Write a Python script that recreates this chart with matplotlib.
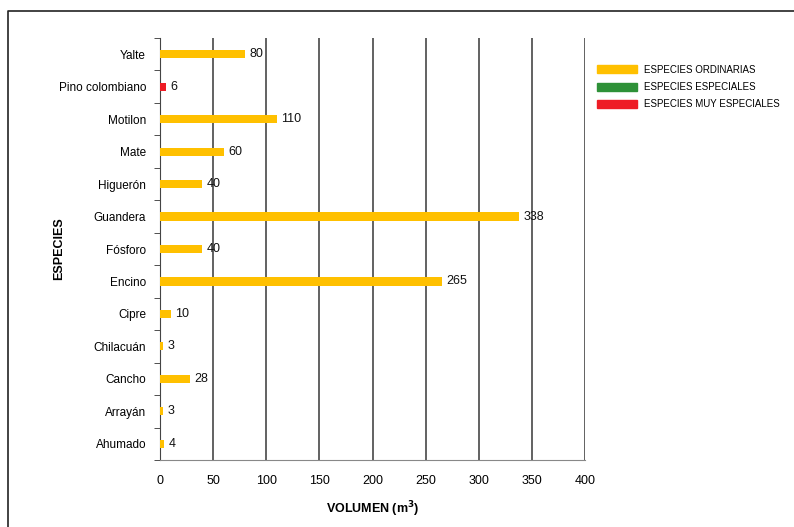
import matplotlib.pyplot as plt
from matplotlib.patches import Patch
from matplotlib.lines import Line2D

plt.rcParams['font.family'] = ['Liberation Sans', 'DejaVu Sans']

especies = ['Yalte', 'Pino colombiano', 'Motilon', 'Mate', 'Higuerón', 'Guandera',
            'Fósforo', 'Encino', 'Cipre', 'Chilacuán', 'Cancho', 'Arrayán', 'Ahumado']
volumen = [80, 6, 110, 60, 40, 338, 40, 265, 10, 3, 28, 3, 4]
tipo = ['ord', 'muy', 'ord', 'ord', 'ord', 'ord', 'ord', 'ord', 'ord', 'ord', 'ord', 'ord', 'ord']

colores = {'ord': '#FFC000', 'esp': '#2E9138', 'muy': '#EE1C25'}
nombres = {'ord': 'ESPECIES ORDINARIAS', 'esp': 'ESPECIES ESPECIALES', 'muy': 'ESPECIES MUY ESPECIALES'}

fig = plt.figure(figsize=(7.94, 5.27), dpi=100)
ax = fig.add_axes([0.2015, 0.1271, 0.5353, 0.8008])

# outer frame (top and left only visible)
fig.add_artist(Line2D([8/794, 8/794, 1.0], [0.0, 1 - 11/527, 1 - 11/527],
                      transform=fig.transFigure, color='#222222', lw=1.2))

y = list(range(len(especies)))
ax.barh(y, volumen, height=0.25, color=[colores[t] for t in tipo], zorder=3)
for yi, v in zip(y, volumen):
    ax.text(v + 4, yi, str(v), va='center', ha='left', fontsize=9, color='#111111', zorder=4)

ax.set_ylim(len(especies) - 0.5, -0.5)
ax.set_xlim(0, 400)
ax.set_xticks(range(0, 401, 50))
ax.set_yticks(y)
ax.set_yticklabels(especies, fontsize=8.5)
ax.set_yticks([i + 0.5 for i in range(-1, len(especies))], minor=True)
ax.tick_params(axis='y', which='major', length=0, pad=10)
ax.tick_params(axis='y', which='minor', length=4, direction='out', color='#333333')
ax.tick_params(axis='x', length=0, pad=11, labelsize=9)
ax.grid(axis='x', color='#555555', lw=1.3, zorder=1)

for s in ['top', 'right']:
    ax.spines[s].set_visible(False)
ax.spines['left'].set_color('#444444')
ax.spines['bottom'].set_color('#888888')

ax.set_ylabel('ESPECIES', fontsize=9, fontweight='bold')
ax.yaxis.set_label_coords(-0.223, 0.5)
ax.set_xlabel(r'VOLUMEN (m$^{\mathbf{3}}$)', fontsize=9, fontweight='bold', labelpad=9)

handles = [Patch(color=colores[k], label=nombres[k]) for k in ['ord', 'esp', 'muy']]
fig.legend(handles=handles, loc='upper left', bbox_to_anchor=(588/794, 1 - 56/527),
           frameon=False, fontsize=7, handlelength=4.1, handleheight=0.9,
           labelspacing=0.75, handletextpad=0.8)

fig.savefig('out.png', dpi=100)
